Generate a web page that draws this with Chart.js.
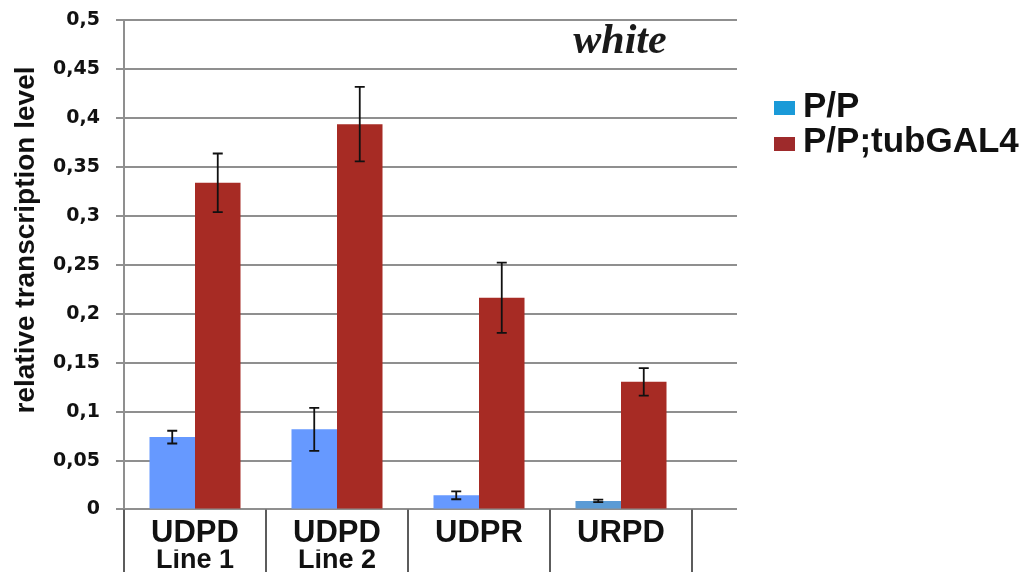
<!DOCTYPE html>
<html><head><meta charset="utf-8">
<script src="https://cdn.jsdelivr.net/npm/chart.js@4/dist/chart.umd.min.js"></script>
<style>html,body{margin:0;padding:0;background:#fff}</style>
</head><body>
<canvas id="c" width="1029" height="574"></canvas>
<script>
const categories = ['UDPD', 'UDPD', 'UDPR', 'URPD'];
const subLabels = ['Line 1', 'Line 2', '', ''];
const seriesNames = ['P/P', 'P/P;tubGAL4'];
const ppValues = [0.074, 0.082, 0.0145, 0.0088];
const ppErrors = [0.0065, 0.022, 0.004, 0.0012];
const tubValues = [0.334, 0.394, 0.2165, 0.1305];
const tubErrors = [0.030, 0.038, 0.036, 0.014];
const yTickLabels = ['0', '0,05', '0,1', '0,15', '0,2', '0,25', '0,3', '0,35', '0,4', '0,45', '0,5'];
const yTitle = 'relative transcription level';
const panelTitle = 'white';

const ppColors = ['#6699ff', '#6699ff', '#6699ff', '#5b9bd5'];
const tubColor = '#a72b24';
const legendColors = ['#1a9ad8', '#9e2a2b'];
const gridColor = '#8f8f8f';

const errorBars = {
  id: 'errorBars',
  afterDatasetsDraw(chart) {
    const y = chart.scales.y;
    const ctx = chart.ctx;
    const vals = [ppValues, tubValues];
    const errs = [ppErrors, tubErrors];
    ctx.save();
    ctx.strokeStyle = '#111';
    ctx.lineWidth = 1.8;
    chart.data.datasets.forEach((ds, i) => {
      const meta = chart.getDatasetMeta(i);
      meta.data.forEach((bar, j) => {
        const v = vals[i][j], e = errs[i][j];
        const x = bar.x;
        const yt = y.getPixelForValue(v + e), yb = y.getPixelForValue(v - e);
        ctx.beginPath();
        ctx.moveTo(x, yt); ctx.lineTo(x, yb);
        ctx.moveTo(x - 5, yt); ctx.lineTo(x + 5, yt);
        ctx.moveTo(x - 5, yb); ctx.lineTo(x + 5, yb);
        ctx.stroke();
      });
    });
    ctx.restore();
  }
};

const separators = {
  id: 'separators',
  afterDraw(chart) {
    const x = chart.scales.x;
    const ctx = chart.ctx;
    const n = categories.length;
    const step = (x.getPixelForValue(1) - x.getPixelForValue(0));
    ctx.save();
    ctx.strokeStyle = '#5c5c5c';
    ctx.lineWidth = 2;
    ctx.beginPath();
    for (let i = 0; i <= n; i++) {
      const px = x.getPixelForValue(0) - step / 2 + i * step;
      ctx.moveTo(px, chart.chartArea.bottom);
      ctx.lineTo(px, 572);
    }
    ctx.stroke();
    ctx.restore();
  }
};

const texts = {
  id: 'texts',
  afterDraw(chart) {
    const ctx = chart.ctx;
    ctx.save();
    ctx.fillStyle = '#1a1a1a';
    ctx.font = 'bold italic 42px "Liberation Serif"';
    ctx.textAlign = 'center';
    ctx.textBaseline = 'alphabetic';
    ctx.fillText(panelTitle, 620, 53);
    ctx.restore();

    ctx.save();
    ctx.fillStyle = '#111';
    ctx.font = 'bold 28px "Liberation Sans"';
    ctx.translate(34, 240);
    ctx.rotate(-Math.PI / 2);
    ctx.textAlign = 'center';
    ctx.textBaseline = 'alphabetic';
    ctx.fillText(yTitle, 0, 0);
    ctx.restore();

    // legend
    ctx.save();
    ctx.font = 'bold 35px "Liberation Sans"';
    ctx.textAlign = 'left';
    ctx.textBaseline = 'alphabetic';
    const rows = [{ box: 101, base: 117 }, { box: 137, base: 152 }];
    seriesNames.forEach((name, i) => {
      ctx.fillStyle = legendColors[i];
      ctx.fillRect(774, rows[i].box, 21, 14);
      ctx.fillStyle = '#111';
      ctx.fillText(name, 803, rows[i].base);
    });
    ctx.restore();
  }
};

new Chart(document.getElementById('c'), {
  type: 'bar',
  data: {
    labels: categories,
    datasets: [
      { label: seriesNames[0], data: ppValues, backgroundColor: ppColors, borderWidth: 0, categoryPercentage: 0.641, barPercentage: 1 },
      { label: seriesNames[1], data: tubValues, backgroundColor: tubColor, borderWidth: 0, categoryPercentage: 0.641, barPercentage: 1 }
    ]
  },
  options: {
    responsive: false,
    animation: false,
    layout: { padding: { top: 0, right: 292, bottom: 0, left: 0 } },
    plugins: {
      tooltip: { enabled: false },
      legend: { display: false }
    },
    scales: {
      x: {
        type: 'category',
        position: 'bottom',
        offset: true,
        grid: { display: false },
        border: { display: true, color: gridColor, width: 2 },
        ticks: { color: '#111', padding: 3, maxRotation: 0, autoSkip: false,
          font: { family: '"Liberation Sans", Arial, sans-serif', weight: 'bold', size: 31, lineHeight: 0.81 } },
        afterFit: s => { s.height = 40; }
      },
      x2: {
        type: 'category',
        position: 'bottom',
        labels: subLabels,
        offset: true,
        grid: { display: false },
        border: { display: false },
        ticks: { color: '#111', padding: 0, maxRotation: 0, autoSkip: false,
          font: { family: '"Liberation Sans", Arial, sans-serif', weight: 'bold', size: 27, lineHeight: 0.23 } },
        afterFit: s => { s.height = 24.5; }
      },
      y: {
        type: 'linear',
        min: 0, max: 0.5,
        ticks: { stepSize: 0.05, padding: 16, color: '#111',
          font: { family: '"DejaVu Sans", Verdana, sans-serif', weight: 'bold', size: 19, lineHeight: 0.47 },
          callback: (v, i) => yTickLabels[i] },
        grid: { color: gridColor, lineWidth: 2, tickLength: 8 },
        border: { display: true, color: gridColor, width: 2 },
        afterFit: s => { s.width = 124; }
      },
      y2: {
        type: 'linear',
        position: 'right',
        min: 0, max: 0.5,
        ticks: { stepSize: 0.05, display: false },
        grid: { drawOnChartArea: false, color: gridColor, lineWidth: 2, tickLength: 45 },
        border: { display: false },
        afterFit: s => { s.width = 45; }
      }
    }
  },
  plugins: [errorBars, separators, texts]
});
</script>
</body></html>
